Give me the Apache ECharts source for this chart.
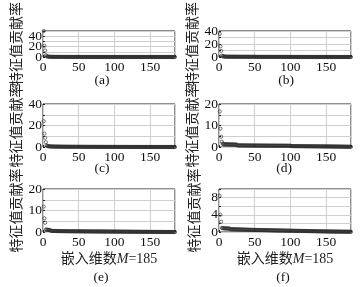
<!DOCTYPE html>
<html><head><meta charset="utf-8">
<script src="https://cdn.jsdelivr.net/npm/echarts@6/dist/echarts.min.js"></script>
<style>html,body{margin:0;padding:0;background:#fff}#c{width:362px;height:287px}</style>
</head><body><div id="c"></div>
<script>
// ---- data ----
const xTickLabels = [0, 50, 100, 150];
const xMax = 185;
const yMax = [50, 40, 40, 20, 20, 10];
const yStep = [10, 10, 10, 5, 5, 2];
const yTickLabels = [[0,20,40],[0,20,40],[0,20,40],[0,10,20],[0,10,20],[0,4,8]];
const captions = ['(a)','(b)','(c)','(d)','(e)','(f)'];
const yName = '特征值贡献率';
const xName = '嵌入维数{i|M}=185';

const rateA = [50,21.5,12.5,3.5,1.6,1.1,0.8,0.62,0.5,0.42,
0.38,0.35,0.33,0.31,0.29,0.27,0.26,0.25,0.24,0.23,
0.22,0.21,0.2,0.19,0.19,0.18,0.17,0.17,0.16,0.16,
0.15,0.15,0.14,0.14,0.13,0.13,0.13,0.12,0.12,0.12,
0.11,0.11,0.11,0.1,0.1,0.1,0.1,0.09,0.09,0.09,
0.09,0.08,0.08,0.08,0.08,0.08,0.07,0.07,0.07,0.07,
0.07,0.07,0.06,0.06,0.06,0.06,0.06,0.06,0.06,0.05,
0.05,0.05,0.05,0.05,0.05,0.05,0.05,0.05,0.04,0.04,
0.04,0.04,0.04,0.04,0.04,0.04,0.04,0.04,0.04,0.04,
0.04,0.04,0.04,0.04,0.04,0.04,0.04,0.04,0.03,0.03,
0.03,0.03,0.03,0.03,0.03,0.03,0.03,0.03,0.03,0.03,
0.03,0.03,0.03,0.03,0.03,0.03,0.03,0.03,0.03,0.03,
0.03,0.03,0.03,0.03,0.03,0.02,0.02,0.02,0.02,0.02,
0.02,0.02,0.02,0.02,0.02,0.02,0.02,0.02,0.02,0.02,
0.02,0.02,0.02,0.02,0.02,0.02,0.02,0.02,0.02,0.02,
0.02,0.02,0.02,0.02,0.02,0.02,0.02,0.02,0.02,0.02,
0.02,0.02,0.02,0.02,0.02,0.01,0.01,0.01,0.01,0.01,
0.01,0.01,0.01,0.01,0.01,0.01,0.01,0.01,0.01,0.01,
0.01,0.01,0.01,0.01,0.01];

const rateB = [35.5,16.5,9.5,2.2,1.3,0.9,0.75,0.65,0.58,0.52,
0.5,0.48,0.47,0.46,0.45,0.44,0.43,0.42,0.42,0.41,
0.4,0.4,0.39,0.39,0.38,0.38,0.37,0.37,0.36,0.36,
0.35,0.35,0.35,0.34,0.34,0.33,0.33,0.33,0.32,0.32,
0.32,0.31,0.31,0.31,0.3,0.3,0.3,0.29,0.29,0.29,
0.24,0.23,0.23,0.22,0.22,0.22,0.21,0.21,0.21,0.2,
0.2,0.2,0.2,0.19,0.19,0.19,0.19,0.18,0.18,0.18,
0.18,0.17,0.17,0.17,0.17,0.16,0.16,0.16,0.16,0.15,
0.15,0.15,0.15,0.15,0.14,0.14,0.14,0.14,0.14,0.13,
0.13,0.13,0.13,0.13,0.12,0.12,0.12,0.12,0.12,0.11,
0.11,0.11,0.11,0.11,0.1,0.1,0.1,0.1,0.1,0.1,
0.09,0.09,0.09,0.09,0.09,0.09,0.08,0.08,0.08,0.08,
0.08,0.08,0.07,0.07,0.07,0.07,0.07,0.07,0.06,0.06,
0.06,0.06,0.06,0.06,0.06,0.05,0.05,0.05,0.05,0.05,
0.05,0.05,0.04,0.04,0.04,0.04,0.04,0.04,0.04,0.03,
0.03,0.03,0.03,0.03,0.03,0.03,0.03,0.02,0.02,0.02,
0.02,0.02,0.02,0.02,0.02,0.02,0.01,0.01,0.01,0.01,
0.01,0.01,0.01,0.01,0.01,0.01,0.01,0.01,0.01,0.01,
0.01,0.01,0.01,0.01,0.01];

const rateC = [24,12.5,8.5,4.5,1.5,1.0,0.8,0.7,0.6,0.55,
0.5,0.47,0.45,0.43,0.41,0.4,0.38,0.37,0.36,0.35,
0.34,0.33,0.32,0.31,0.3,0.3,0.29,0.28,0.28,0.27,
0.27,0.26,0.26,0.25,0.25,0.24,0.24,0.23,0.23,0.22,
0.22,0.22,0.21,0.21,0.21,0.2,0.2,0.2,0.19,0.19,
0.19,0.18,0.18,0.18,0.18,0.17,0.17,0.17,0.17,0.16,
0.16,0.16,0.16,0.15,0.15,0.15,0.15,0.15,0.14,0.14,
0.14,0.14,0.14,0.13,0.13,0.13,0.13,0.13,0.12,0.12,
0.12,0.12,0.12,0.12,0.11,0.11,0.11,0.11,0.11,0.11,
0.1,0.1,0.1,0.1,0.1,0.1,0.09,0.09,0.09,0.09,
0.09,0.09,0.08,0.08,0.08,0.08,0.08,0.08,0.08,0.07,
0.07,0.07,0.07,0.07,0.07,0.07,0.06,0.06,0.06,0.06,
0.06,0.06,0.06,0.05,0.05,0.05,0.05,0.05,0.05,0.05,
0.04,0.04,0.04,0.04,0.04,0.04,0.04,0.04,0.03,0.03,
0.03,0.03,0.03,0.03,0.03,0.03,0.03,0.03,0.03,0.02,
0.02,0.02,0.02,0.02,0.02,0.02,0.02,0.02,0.02,0.02,
0.02,0.02,0.01,0.01,0.01,0.01,0.01,0.01,0.01,0.01,
0.01,0.01,0.01,0.01,0.01,0.01,0.01,0.01,0.01,0.01,
0.01,0.01,0.01,0.01,0.01];

const rateD = [16.5,8.5,4.8,2.5,1.6,1.4,
1.3,1.28,1.27,1.25,1.24,1.23,1.22,1.21,1.2,1.19,1.18,1.17,1.16,1.15,1.15,1.14,1.13,1.12,1.1,
0.75,0.75,0.74,0.74,0.74,0.73,0.73,0.73,0.72,0.72,
0.72,0.71,0.71,0.71,0.7,0.7,0.7,0.7,0.69,0.69,
0.69,0.68,0.68,0.68,0.68,0.67,0.67,0.67,0.67,0.66,
0.66,0.66,0.66,0.65,0.65,0.65,0.65,0.64,0.64,0.64,
0.64,0.64,0.63,0.63,0.63,0.63,0.63,0.62,0.62,0.62,
0.62,0.62,0.62,0.61,0.61,0.61,0.61,0.61,0.61,0.6,
0.6,0.6,0.6,0.6,0.6,0.6,0.59,0.59,0.59,0.59,
0.59,0.59,0.59,0.58,0.58,
0.42,0.42,0.41,0.41,0.41,0.4,0.4,0.4,0.39,0.39,
0.39,0.38,0.38,0.38,0.37,0.37,0.37,0.36,0.36,0.36,
0.35,0.35,0.35,0.34,0.34,0.34,0.33,0.33,0.33,0.32,
0.32,0.32,0.31,0.31,0.31,0.3,0.3,0.3,0.29,0.29,
0.29,0.28,0.28,0.28,0.27,0.27,0.27,0.26,0.26,0.26,
0.25,0.25,0.25,0.24,0.24,0.24,0.23,0.23,0.22,0.22,
0.22,0.21,0.21,0.2,0.2,0.2,0.19,0.19,0.18,0.18,
0.17,0.17,0.16,0.16,0.15,0.15,0.14,0.14,0.13,0.13,
0.12,0.12,0.11,0.11,0.1];

const rateE = [11.8,6.4,4.3,1.2,1.1,1.0,1.0,0.95,0.9,0.9,
0.55,0.53,0.52,0.5,0.49,0.48,0.47,0.46,0.45,0.44,
0.43,0.43,0.42,0.41,0.41,0.4,0.4,0.39,0.39,0.38,
0.38,0.37,0.37,0.36,0.36,0.36,0.35,0.35,0.35,0.34,
0.34,0.34,0.33,0.33,0.33,0.32,0.32,0.32,0.31,0.31,
0.31,0.3,0.3,0.3,0.3,0.29,0.29,0.29,0.28,0.28,
0.28,0.28,0.27,0.27,0.27,0.27,0.26,0.26,0.26,0.26,
0.25,0.25,0.25,0.25,0.24,0.24,0.24,0.24,0.23,0.23,
0.23,0.23,0.22,0.22,0.22,0.22,0.21,0.21,0.21,0.21,
0.2,0.2,0.2,0.2,0.19,0.19,0.19,0.19,0.18,0.18,
0.18,0.18,0.17,0.17,0.17,0.17,0.16,0.16,0.16,0.16,
0.15,0.15,0.15,0.15,0.14,0.14,0.14,0.14,0.13,0.13,
0.13,0.13,0.12,0.12,0.12,0.12,0.11,0.11,0.11,0.11,
0.1,0.1,0.1,0.1,0.09,0.09,0.09,0.09,0.08,0.08,
0.08,0.08,0.07,0.07,0.07,0.07,0.06,0.06,0.06,0.06,
0.05,0.05,0.05,0.05,0.04,0.04,0.04,0.04,0.03,0.03,
0.03,0.03,0.03,0.02,0.02,0.02,0.02,0.02,0.02,0.01,
0.01,0.01,0.01,0.01,0.01,0.01,0.01,0.01,0.01,0.01,
0.01,0.01,0.01,0.01,0.01];

const rateF = [8.4,4.0,2.4,0.95,0.9,0.88,
0.86,0.85,0.84,0.83,0.82,0.81,0.8,0.79,0.78,
0.65,0.64,0.64,0.63,0.63,0.62,0.62,0.61,0.61,0.6,
0.6,0.59,0.59,0.58,0.58,0.57,0.57,0.56,0.56,0.55,
0.55,0.54,0.54,0.53,0.53,0.52,0.52,0.51,0.51,0.5,
0.5,0.5,0.49,0.49,0.48,0.48,0.47,0.47,0.47,0.46,
0.46,0.45,0.45,0.45,0.44,0.44,0.43,0.43,0.43,0.42,
0.42,0.41,0.41,0.41,0.4,0.4,0.39,0.39,0.39,0.38,
0.38,0.38,0.37,0.37,0.36,0.36,0.36,0.35,0.35,0.35,
0.34,0.34,0.34,0.33,0.33,0.33,0.32,0.32,0.32,0.31,
0.31,0.31,0.3,0.3,0.3,0.29,0.29,0.29,0.28,0.28,
0.28,0.27,0.27,0.27,0.26,0.26,0.26,0.25,0.25,0.25,
0.24,0.24,0.24,0.23,0.23,0.23,0.22,0.22,0.22,0.21,
0.21,0.21,0.2,0.2,0.2,0.19,0.19,0.19,0.18,0.18,
0.18,0.17,0.17,0.17,0.16,0.16,0.16,0.15,0.15,0.15,
0.14,0.14,0.14,0.13,0.13,0.13,0.12,0.12,0.12,0.11,
0.11,0.11,0.11,0.1,0.1,0.1,0.1,0.09,0.09,0.09,
0.09,0.09,0.08,0.08,0.08,0.08,0.08,0.07,0.07,0.07,
0.07,0.07,0.07,0.06,0.06,0.06,0.06,0.06,0.06,0.05];

const allRates = [rateA, rateB, rateC, rateD, rateE, rateF];

// ---- layout ----
const SERIF = '"Liberation Serif","Times New Roman",serif';
const CJK = '"Liberation Serif","Noto Sans CJK SC",serif';
const gridLefts = [43, 219];
const gridTops = [14, 104, 189];
const gridW = 132, gridH = 43;
const capPos = [[102,80],[286,80],[102,168],[284,168],[101,277],[283,277]];

const grids = [], xAxes = [], yAxes = [], series = [], graphics = [];
for (let k = 0; k < 6; k++) {
  const col = k % 2, row = Math.floor(k / 2);
  grids.push({left: gridLefts[col], top: gridTops[row], width: gridW, height: gridH,
    show: true, borderColor: '#222', borderWidth: 1, backgroundColor: '#fff'});
  const xa = {
    type: 'value', gridIndex: k, min: 0, max: xMax, interval: 50,
    axisLine: {show: false},
    axisTick: {show: true, inside: true, length: 2, lineStyle: {color: '#222'}},
    splitLine: {show: true, lineStyle: {color: '#cfcfcf', width: 1}},
    axisLabel: {margin: 3, fontSize: 13.5, fontFamily: SERIF, color: '#111',
      formatter: v => xTickLabels.includes(v) ? String(v) : ''}
  };
  if (row === 2) {
    xa.name = xName; xa.nameLocation = 'middle'; xa.nameGap = 20;
    xa.nameTextStyle = {fontSize: 14, fontFamily: CJK, color: '#222',
      rich: {i: {fontStyle: 'italic', fontSize: 14, fontFamily: SERIF, color: '#222'}}};
  }
  xAxes.push(xa);
  const ticks = yTickLabels[k];
  yAxes.push({
    type: 'value', gridIndex: k, min: 0, max: yMax[k], interval: yStep[k],
    axisLine: {show: false},
    axisTick: {show: true, inside: true, length: 2, lineStyle: {color: '#222'}},
    splitLine: {show: true, lineStyle: {color: '#cfcfcf', width: 1}},
    axisLabel: {margin: 1, fontSize: 13.5, fontFamily: SERIF, color: '#111',
      formatter: v => ticks.includes(v) ? String(v) : ''},
    name: yName, nameLocation: 'middle', nameGap: 17, nameRotate: 90,
    nameTextStyle: {fontSize: 14, fontFamily: CJK, color: '#222'}
  });
  series.push({
    type: 'scatter', xAxisIndex: k, yAxisIndex: k,
    symbol: 'circle', symbolSize: 3.2,
    itemStyle: {color: 'rgba(0,0,0,0)', borderColor: '#2a2a2a', borderWidth: 0.8},
    data: allRates[k].map((v, i) => [i + 1, v]),
    animation: false
  });
  graphics.push({type: 'text', x: capPos[k][0], y: capPos[k][1],
    style: {text: captions[k], align: 'center', verticalAlign: 'middle',
      fontSize: 13.5, fontFamily: SERIF, fill: '#111'}});
}

const chart = echarts.init(document.getElementById('c'), null, {renderer: 'canvas'});
chart.setOption({
  animation: false,
  backgroundColor: '#fff',
  grid: grids, xAxis: xAxes, yAxis: yAxes, series: series, graphic: graphics
});
</script></body></html>
